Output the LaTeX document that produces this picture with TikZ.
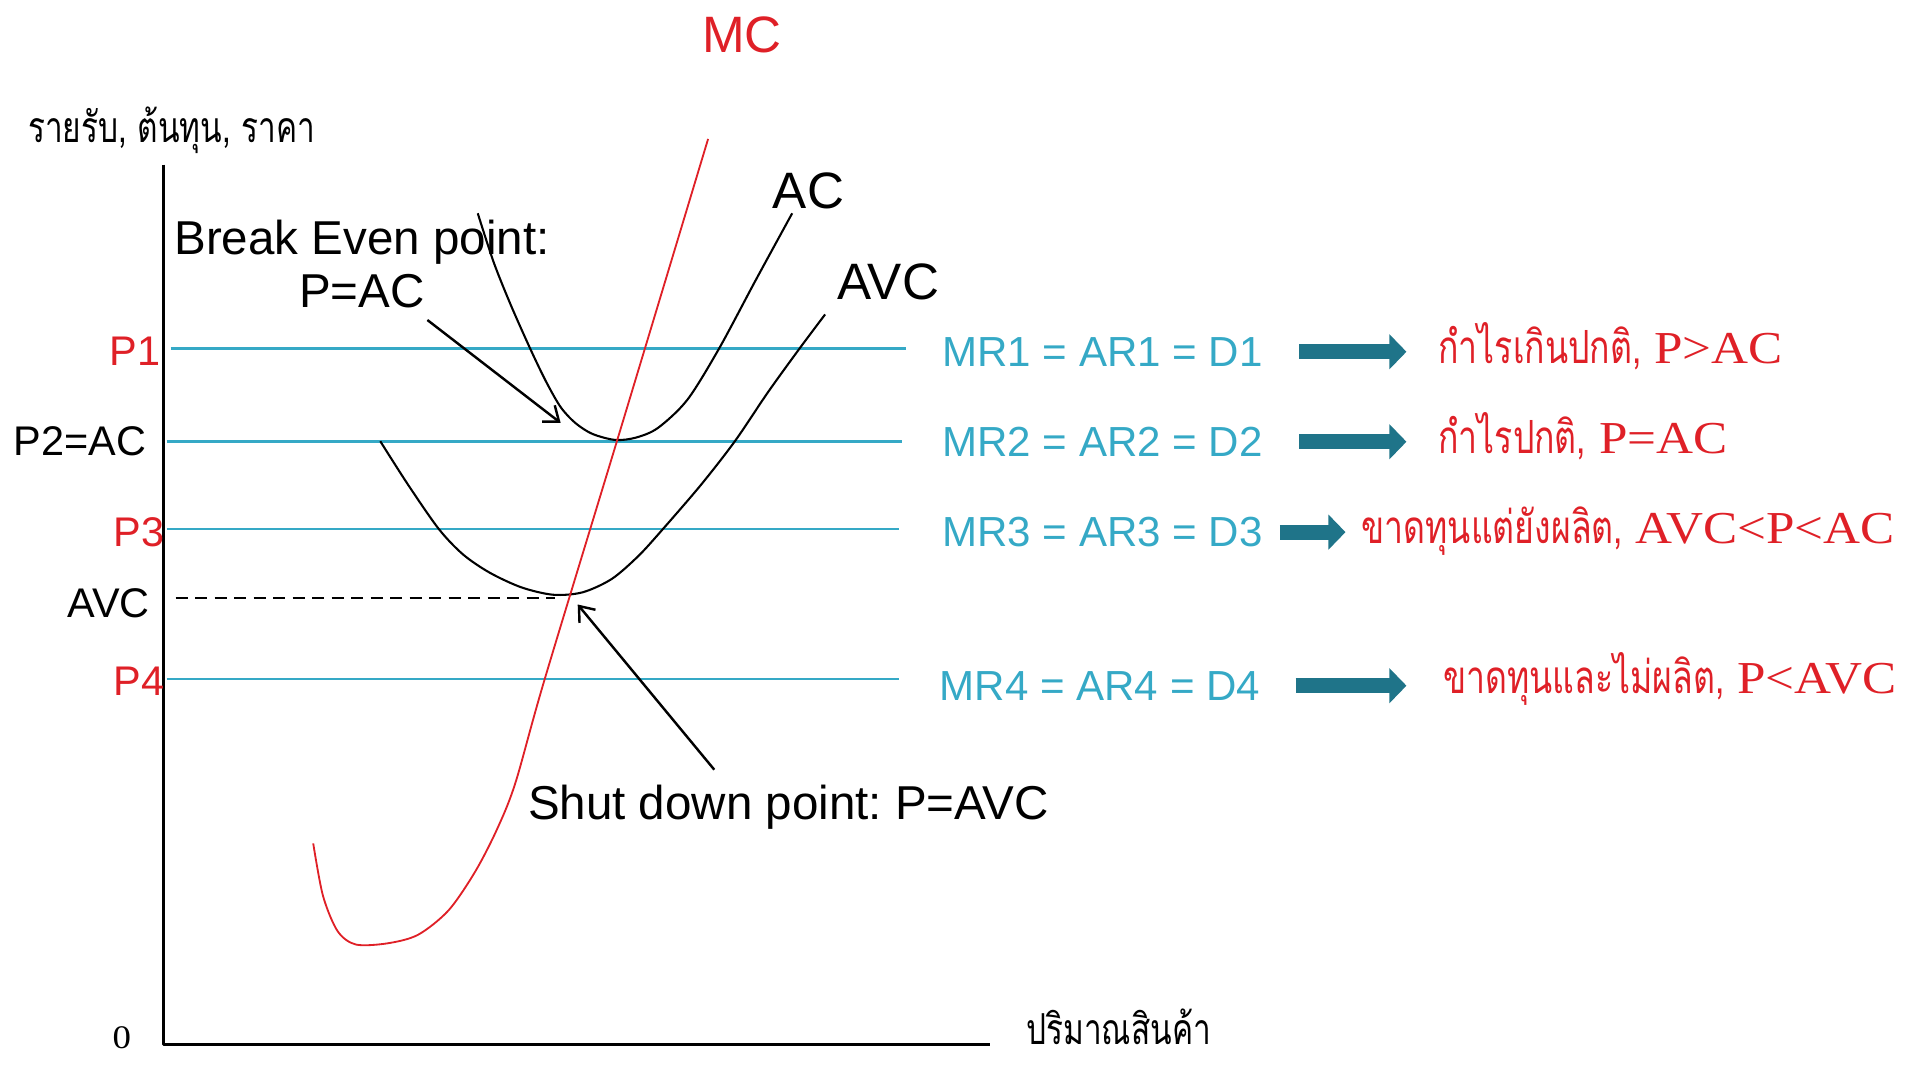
\documentclass[tikz,border=0pt]{standalone}
\usepackage{fontspec}
\setmainfont{Liberation Sans}
\newfontfamily\thaifont[Script=Thai,FakeStretch=0.74]{Loma}
\newfontfamily\romfont[FakeStretch=1.12]{Liberation Serif}
\usetikzlibrary{arrows.meta,calc}
\definecolor{mcred}{HTML}{DF2027}
\definecolor{mrblue}{HTML}{35A9C6}
\definecolor{arrteal}{HTML}{1F7489}
\frenchspacing

\begin{document}
\begin{tikzpicture}[x=1pt, y=-1pt, line join=round,
	every node/.style={inner sep=0pt},
	pricelbl/.style={anchor=base east, font=\fontsize{34}{40}\selectfont},
	mrlbl/.style={anchor=base west, text=mrblue, font=\fontsize{34.5}{40}\selectfont},
	reslbl/.style={anchor=base west, text=mcred, font=\fontsize{37.5}{44}\selectfont},
	curvelbl/.style={anchor=base west, font=\fontsize{42}{48}\selectfont},
	notelbl/.style={anchor=base, font=\fontsize{39}{45}\selectfont},
	mrline/.style={mrblue, line width=2.2pt},
	bigarr/.style={arrteal, line width=12.5pt, -{Triangle[length=14pt,width=28pt]}},
	thinarr/.style={line width=2pt, -{Straight Barb[length=11pt,width=17pt]}},
	guide/.style={line width=1.6pt, dash pattern=on 10pt off 6pt}]
	\useasboundingbox (0,0) rectangle (1568,874);
	\coordinate (o) at (134,857);
	\coordinate (p1) at (134,286);
	\coordinate (p2) at (134,362);
	\coordinate (p3) at (134,434);
	\coordinate (p4) at (134,557);
	\coordinate (acmin) at (507,362);
	\coordinate (avcmin) at (455,491);
	\coordinate (bept) at (460,347);
	\coordinate (sdpt) at (474,496);

	\draw[line width=2pt] (134,135) -- (o) -- (812,857);
	\node (zero) at (100,860) [anchor=base, font=\romfont\fontsize{27}{30}\selectfont] {0};
	\node (ylab) at (23,117) [anchor=base west, font=\thaifont\fontsize{35}{40}\selectfont] {รายรับ, ต้นทุน, ราคา};
	\node (xlab) at (842,857) [anchor=base west, font=\thaifont\fontsize{35}{40}\selectfont] {ปริมาณสินค้า};

	\node (lp1) at (132,300) [pricelbl, text=mcred] {P1};
	\node (lp2) at (120,374) [pricelbl] {P2=AC};
	\node (lp3) at (135,448) [pricelbl, text=mcred] {P3};
	\node (lavc) at (123,507) [pricelbl] {AVC};
	\node (lp4) at (135,571) [pricelbl, text=mcred] {P4};

	\node (mr1) at (773,300.5) [mrlbl] {MR1 = AR1 = D1};
	\node (mr2) at (773,374.5) [mrlbl] {MR2 = AR2 = D2};
	\node (mr3) at (773,448.5) [mrlbl] {MR3 = AR3 = D3};
	\node (mr4) at (771,574.5) [mrlbl] {MR4 = AR4 = D4};

	\node (res1) at (1180,298) [reslbl] {{\thaifont กำไรเกินปกติ,} {\romfont P>AC}};
	\node (res2) at (1180,372) [reslbl] {{\thaifont กำไรปกติ,} {\romfont P=AC}};
	\node (res3) at (1117,446) [reslbl] {{\thaifont ขาดทุนแต่ยังผลิต,} {\romfont AVC<P<AC}};
	\node (res4) at (1184,569) [reslbl] {{\thaifont ขาดทุนและไม่ผลิต,} {\romfont P<AVC}};

	\draw[guide] ([xshift=3pt]p2) -- (acmin);
	\draw[guide] ([xshift=10pt]o |- avcmin) -- (avcmin);
	\draw[mrline, shorten <=6pt, shorten >=30pt] (p1) -- (p1 -| mr1.west);
	\draw[mrline, shorten <=3pt, shorten >=33pt] (p2) -- (p2 -| mr2.west);
	\draw[mrline, shorten <=3pt, shorten >=35pt] (p3) -- (p3 -| mr3.west);
	\draw[mrline, shorten <=3pt, shorten >=33pt] (p4) -- (p4 -| mr4.west);

	\draw[bigarr, shorten <=30pt, shorten >=26pt] (mr1.east) -- (mr1.east -| res1.west);
	\draw[bigarr, shorten <=30pt, shorten >=26pt] (mr2.east) -- (mr2.east -| res2.west);
	\draw[bigarr, shorten <=14pt, shorten >=13pt] (mr3.east) -- (mr3.east -| res3.west);
	\draw[bigarr, shorten <=29pt, shorten >=30pt] (mr4.east) -- (mr4.east -| res4.west);

	\draw[black, line width=1.7pt] plot[smooth] coordinates {(392,175) (405,215) (419,250) (435,286) (448,313) (460,334) (472,347) (486,356) (505,361) (522,359) (540,351) (564,328) (590,286) (620,230) (650,175)};
	\draw[black, line width=1.7pt] plot[smooth] coordinates {(312,362) (335,398) (360,434) (380,455) (402,470) (428,482) (454,488) (478,486) (502,475) (524,456) (544,434) (575,398) (603,362) (630,322) (656,286) (677,258)};
	\draw[mcred, line width=1.5pt] plot[smooth] coordinates {(257,692) (265,735) (277,764) (292,775) (318,774) (343,767) (368,747) (390,715) (408,680) (423,642) (447,557) (508,356) (581,114)};

	\node (mc) at (576,43) [curvelbl, text=mcred] {MC};
	\node (ac) at (634,171) [curvelbl] {AC};
	\node (avc) at (687,246) [curvelbl] {AVC};

	\node (bep) at (297,209) [notelbl] {Break Even point:};
	\node (pac) at (297,252) [notelbl] {P=AC};
	\node (sd) at (647,672) [notelbl] {Shut down point: P=AVC};
	\draw[thinarr] ([shift={(2,10)}]pac.south east) -- (bept);
	\draw[thinarr] ([shift={(153,-12)}]sd.north west) -- (sdpt);
\end{tikzpicture}
\end{document}
